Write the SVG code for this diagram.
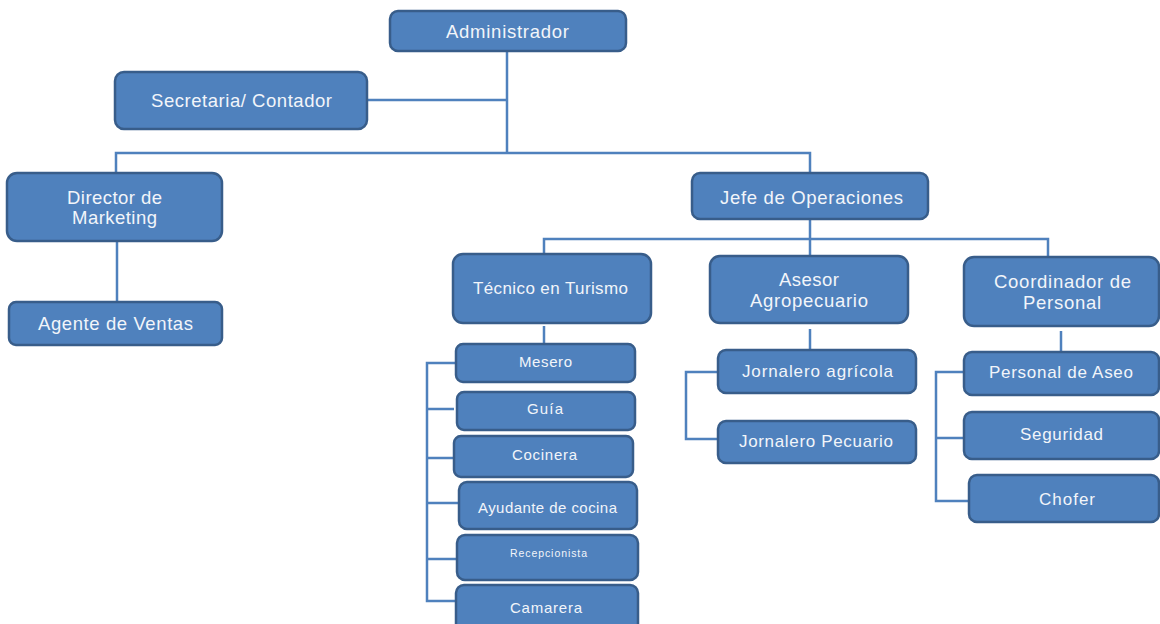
<svg xmlns="http://www.w3.org/2000/svg" width="1160" height="624" viewBox="0 0 1160 624">
<defs>
<style>
.box{fill:#4F81BD;stroke:#385D8A;stroke-width:2.5}
.t{fill:#F2F5FA;font-family:"Liberation Sans",Arial,sans-serif;text-anchor:middle}
.f18{font-size:18.5px}
.f16{font-size:17px}
.f14{font-size:15px}
.f10{font-size:10.5px}
.ln{fill:none;stroke:#4F81BD;stroke-width:2.5}
</style>
</defs>
<rect width="1160" height="624" fill="#FFFFFF"/>
<g id="connectors">
<path class="ln" d="M507,52 V153"/>
<path class="ln" d="M368,100 H507"/>
<path class="ln" d="M116,173 V153 H810 V173"/>
<path class="ln" d="M117,242 V302"/>
<path class="ln" d="M810,219 V257"/>
<path class="ln" d="M544,254 V239 H1048 V257"/>
<path class="ln" d="M544,326 V344"/>
<path class="ln" d="M456,363 H427 V601 H456"/>
<path class="ln" d="M427,409 H454 M427,458 H454 M427,503 H459 M427,559 H457"/>
<path class="ln" d="M810,329 V350"/>
<path class="ln" d="M718,372 H686 V439 H718"/>
<path class="ln" d="M1061,331 V352"/>
<path class="ln" d="M964,372 H936 V501 H969 M936,438 H964"/>
</g>
<g id="administrador"><rect class="box" x="390" y="11" width="236" height="40" rx="8"/><text class="t f18" x="507.5" y="37.5" textLength="123" lengthAdjust="spacing">Administrador</text></g>
<g id="secretaria"><rect class="box" x="115" y="72" width="252" height="57" rx="9"/><text class="t f18" x="241.5" y="106.5" textLength="181" lengthAdjust="spacing">Secretaria/ Contador</text></g>
<g id="director-marketing"><rect class="box" x="7" y="173" width="215" height="68" rx="10"/><text class="t f18" x="114.5" y="203.5" textLength="95" lengthAdjust="spacing">Director de</text><text class="t f18" x="114.5" y="223.5" textLength="85" lengthAdjust="spacing">Marketing</text></g>
<g id="agente-ventas"><rect class="box" x="9" y="302" width="213" height="43" rx="7"/><text class="t f18" x="115.5" y="329.5" textLength="155" lengthAdjust="spacing">Agente de Ventas</text></g>
<g id="jefe-operaciones"><rect class="box" x="692" y="173" width="236" height="46" rx="8"/><text class="t f18" x="811.5" y="203.5" textLength="183" lengthAdjust="spacing">Jefe de Operaciones</text></g>
<g id="tecnico-turismo"><rect class="box" x="453" y="254" width="198" height="69" rx="10"/><text class="t f16" x="550.5" y="294" textLength="155" lengthAdjust="spacing">Técnico en Turismo</text></g>
<g id="asesor-agropecuario"><rect class="box" x="710" y="256" width="198" height="67" rx="10"/><text class="t f18" x="809" y="285.5" textLength="60" lengthAdjust="spacing">Asesor</text><text class="t f18" x="809" y="306.5" textLength="118" lengthAdjust="spacing">Agropecuario</text></g>
<g id="coordinador-personal"><rect class="box" x="964" y="257" width="195" height="69" rx="10"/><text class="t f18" x="1062.5" y="287.5" textLength="137" lengthAdjust="spacing">Coordinador de</text><text class="t f18" x="1062" y="308.5" textLength="78" lengthAdjust="spacing">Personal</text></g>
<g id="mesero"><rect class="box" x="456" y="344" width="179" height="38" rx="7"/><text class="t f14" x="545.5" y="366.5" textLength="53" lengthAdjust="spacing">Mesero</text></g>
<g id="guia"><rect class="box" x="457" y="392" width="178" height="38" rx="7"/><text class="t f14" x="545" y="413.5" textLength="36" lengthAdjust="spacing">Guía</text></g>
<g id="cocinera"><rect class="box" x="454" y="436" width="179" height="41" rx="7"/><text class="t f14" x="544.5" y="459.5" textLength="65" lengthAdjust="spacing">Cocinera</text></g>
<g id="ayudante-cocina"><rect class="box" x="459" y="482" width="178" height="47" rx="8"/><text class="t f14" x="547.5" y="512.5" textLength="139" lengthAdjust="spacing">Ayudante de cocina</text></g>
<g id="recepcionista"><rect class="box" x="457" y="535" width="181" height="45" rx="8"/><text class="t f10" x="548.5" y="556.8" textLength="77" lengthAdjust="spacing">Recepcionista</text></g>
<g id="camarera"><rect class="box" x="456" y="585" width="182" height="48" rx="8"/><text class="t f14" x="546" y="612.5" textLength="72" lengthAdjust="spacing">Camarera</text></g>
<g id="jornalero-agricola"><rect class="box" x="718" y="350" width="198" height="43" rx="8"/><text class="t f16" x="817.5" y="377" textLength="151" lengthAdjust="spacing">Jornalero agrícola</text></g>
<g id="jornalero-pecuario"><rect class="box" x="718" y="421" width="198" height="42" rx="8"/><text class="t f16" x="816" y="447" textLength="154" lengthAdjust="spacing">Jornalero Pecuario</text></g>
<g id="personal-aseo"><rect class="box" x="964" y="352" width="195" height="43" rx="8"/><text class="t f16" x="1061" y="378" textLength="144" lengthAdjust="spacing">Personal de Aseo</text></g>
<g id="seguridad"><rect class="box" x="964" y="412" width="195" height="47" rx="8"/><text class="t f16" x="1061.5" y="440" textLength="83" lengthAdjust="spacing">Seguridad</text></g>
<g id="chofer"><rect class="box" x="969" y="475" width="190" height="47" rx="8"/><text class="t f16" x="1067" y="505" textLength="56" lengthAdjust="spacing">Chofer</text></g>
</svg>
